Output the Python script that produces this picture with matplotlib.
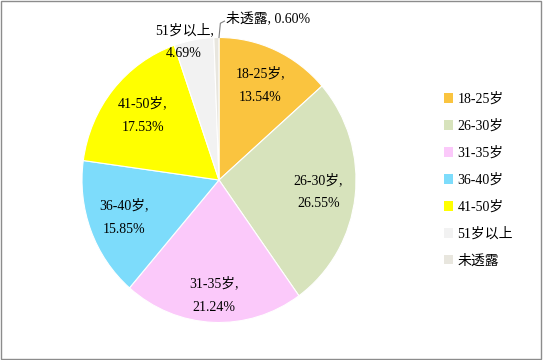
import numpy as np
import matplotlib.pyplot as plt
from matplotlib.patches import Patch, Rectangle

plt.rcParams['font.family'] = ['Liberation Serif', 'Noto Sans CJK SC', 'DejaVu Sans']

# data
labels = ['18-25岁', '26-30岁', '31-35岁', '36-40岁', '41-50岁', '51岁以上', '未透露']
values = [13.54, 26.55, 21.24, 15.85, 17.53, 4.69, 0.60]
colors = ['#FAC43F', '#D7E3BC', '#FBC9FA', '#7DDCFB', '#FFFF00', '#F2F2F2', '#E8E6DE']
label_r = [0.73, 0.73, 0.81, 0.74, 0.72, None, None]

W, H = 543, 360
fig = plt.figure(figsize=(W / 100, H / 100), dpi=100)
ax = fig.add_axes([0, 0, 1, 1])
cx, cy, rx, ry = 219, 180, 137, 142.5

wedges, _ = ax.pie(values, colors=colors, startangle=90, counterclock=False,
                   radius=1, wedgeprops=dict(edgecolor='white', linewidth=0.8))
ax.set_xlim(-cx / rx, (W - cx) / rx)
ax.set_ylim(-(H - cy) / ry, cy / ry)
ax.set_aspect('auto')
ax.axis('off')

fs = 10
cum = np.cumsum([0] + values)
for i, (lab, v) in enumerate(zip(labels, values)):
    mid = np.deg2rad(90 - (cum[i] + v / 2) * 3.6)
    if label_r[i] is not None:
        x, y = label_r[i] * np.cos(mid), label_r[i] * np.sin(mid)
        ax.text(x, y, f'{lab},\n{v:.2f}%', ha='center', va='center',
                fontsize=fs, linespacing=2.05)

# small slices
ax.text(-0.255, 0.97, f'{labels[5]},\n{values[5]:.2f}%', ha='center', va='center',
        fontsize=fs, linespacing=2.05)
ax.plot([0.0, 0.01, 0.04], [1.0, 1.1, 1.115], color='#7f7f7f', lw=0.8)
ax.text(0.05, 1.135, f'{labels[6]}, {values[6]:.2f}%', ha='left', va='center', fontsize=fs)

handles = [Patch(facecolor=c, edgecolor='none') for c in colors]
fig.legend(handles, labels, loc='upper left', bbox_to_anchor=(438 / W, 1 - 87 / H),
           frameon=False, fontsize=fs, handlelength=0.7, handleheight=0.7,
           handletextpad=0.3, labelspacing=0.98, borderaxespad=0)

fig.patches.append(Rectangle((0.002, 0.003), 0.995, 0.993, transform=fig.transFigure,
                             fill=False, edgecolor='#8c8c8c', lw=1))

fig.savefig('out.png', dpi=100)
